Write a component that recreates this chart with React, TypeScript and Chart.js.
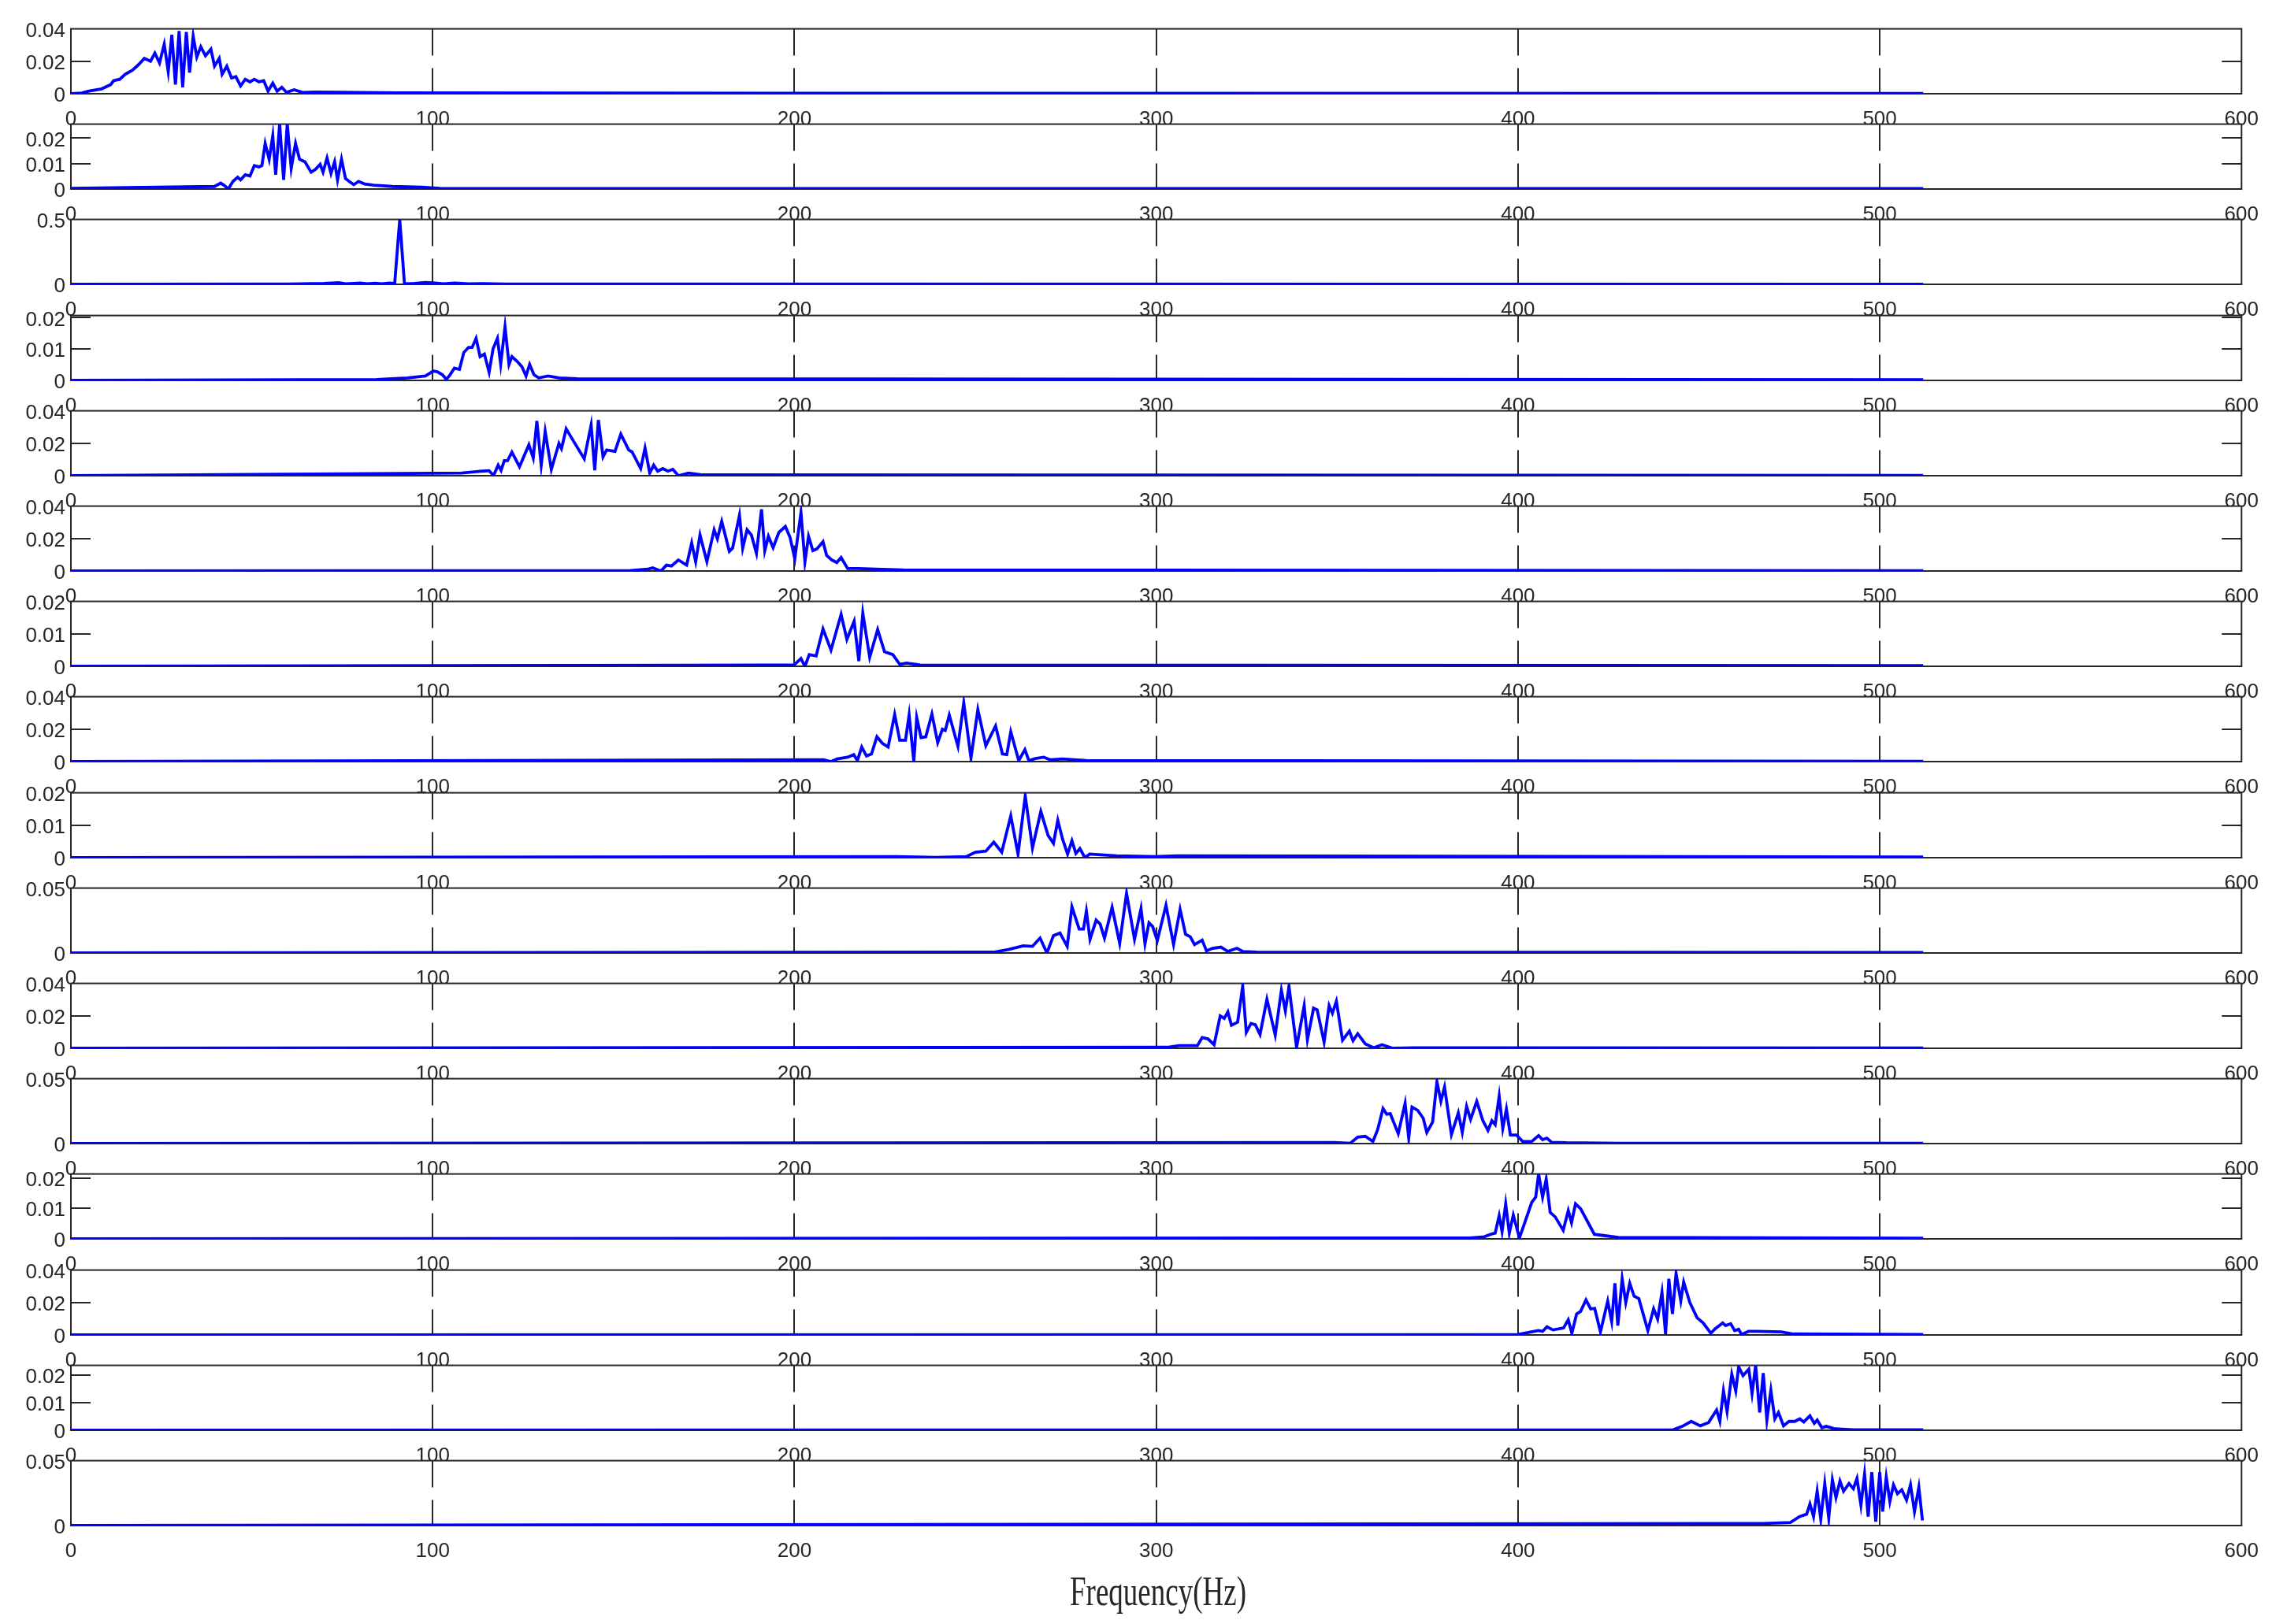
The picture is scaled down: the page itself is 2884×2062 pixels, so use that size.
import { useEffect, useRef } from "react";
import { Chart, registerables } from "chart.js";

Chart.register(...registerables);

// ---------- data ----------
const X_TICKS = [0, 100, 200, 300, 400, 500, 600];
const GRID_X = [100, 200, 300, 400, 500];
const X_LABEL = "Frequency(Hz)";

const panel1: [number, number][] = [
  [0, 0], [3, 0.0004], [5, 0.0016], [8.5, 0.003], [11, 0.0056], [11.8, 0.008], [13.5, 0.0089], [15, 0.012],
  [17, 0.0145], [18.6, 0.0177], [20.3, 0.0218], [22, 0.02], [23.2, 0.025], [24.5, 0.019], [25.8, 0.0306],
  [26.9, 0.0137], [27.9, 0.0363], [28.9, 0.0056], [29.9, 0.0387], [30.9, 0.004], [31.9, 0.038], [32.8, 0.013],
  [33.8, 0.0355], [34.8, 0.0226], [35.9, 0.029], [37.2, 0.0234], [38.7, 0.0274], [39.7, 0.017], [41, 0.0218],
  [41.8, 0.012], [43.1, 0.017], [44.4, 0.0097], [45.6, 0.0105], [46.9, 0.0048], [48.2, 0.0089], [49.5, 0.0073],
  [50.7, 0.0089], [52, 0.0073], [53.3, 0.008], [54.5, 0.0016], [55.8, 0.0065], [57, 0.0016], [58.3, 0.004],
  [59.6, 0.0008], [61.7, 0.0024], [64, 0.0008], [67.6, 0.001], [74, 0.0009], [90, 0.0005], [200, 0.0003], [512, 0.0002],
];
const panel2: [number, number][] = [
  [0, 0.0003], [39.7, 0.001], [41.4, 0.0023], [42.3, 0.0015], [43.5, 0], [44.8, 0.003], [46.1, 0.0046],
  [46.9, 0.0036], [48.2, 0.0056], [49.5, 0.0051], [50.7, 0.0092], [52, 0.0087], [52.8, 0.0092], [53.7, 0.0179],
  [54.8, 0.0117], [55.8, 0.0209], [56.6, 0.0056], [57.7, 0.0255], [58.8, 0.0036], [59.8, 0.0255], [60.9, 0.0082],
  [62.1, 0.0179], [63.2, 0.0117], [64.7, 0.0107], [66.4, 0.0066], [67.6, 0.0077], [68.9, 0.0097], [69.7, 0.0066],
  [70.8, 0.0122], [71.9, 0.0061], [72.9, 0.0107], [73.7, 0.0036], [74.8, 0.0117], [75.9, 0.0041], [76.9, 0.003],
  [78.2, 0.0017], [79.5, 0.003], [81.2, 0.002], [83.7, 0.0015], [88.8, 0.001], [97, 0.0007], [102, 0.0003], [512, 0.0002],
];
const panel3: [number, number][] = [
  [0, 0], [60, 0.002], [70, 0.006], [74, 0.012], [76, 0.004], [80, 0.01], [82, 0.003], [84, 0.008], [86, 0.004],
  [88, 0.01], [89.5, 0.006], [90.9, 0.5], [92.2, 0.004], [95, 0.006], [98, 0.014], [100, 0.012], [103, 0.004],
  [106, 0.01], [110, 0.003], [114, 0.005], [120, 0.002], [512, 0.001],
];
const panel4: [number, number][] = [
  [0, 0], [84.5, 0.0003], [93, 0.0008], [98, 0.0014], [100.2, 0.003], [101.4, 0.0027], [102.7, 0.0018],
  [103.8, 0.0003], [104.8, 0.0018], [106, 0.0039], [107.4, 0.0035], [108.6, 0.0089], [109.9, 0.0105],
  [110.9, 0.0105], [112, 0.0134], [113.1, 0.0076], [114.3, 0.0084], [115.6, 0.0026], [116.7, 0.0101],
  [117.9, 0.0134], [118.8, 0.0051], [120, 0.0171], [121.1, 0.0051], [121.9, 0.0076], [123.4, 0.006],
  [124.7, 0.0043], [125.8, 0.0014], [126.8, 0.0051], [128, 0.0018], [129.3, 0.0008], [131.9, 0.0014],
  [135, 0.0008], [140, 0.0005], [512, 0.0002],
];
const panel5: [number, number][] = [
  [0, 0], [108, 0.0016], [113.7, 0.0028], [115.6, 0.0031], [116.8, 0], [118.1, 0.0065], [118.9, 0.0033],
  [119.8, 0.0093], [120.7, 0.0093], [121.9, 0.0145], [124, 0.0056], [126.6, 0.0191], [127.8, 0.0109],
  [128.8, 0.0338], [130, 0.0065], [131.1, 0.0273], [132.8, 0.0039], [134.9, 0.0199], [135.6, 0.0167],
  [136.9, 0.0289], [139.1, 0.0207], [141.9, 0.0104], [143.8, 0.0313], [144.8, 0.0033], [145.8, 0.0343],
  [147.1, 0.0116], [148.1, 0.0158], [150.4, 0.015], [152, 0.0256], [154.2, 0.0158], [155.1, 0.0147],
  [157.5, 0.0044], [158.7, 0.017], [160, 0.0016], [161.1, 0.0065], [162.2, 0.0028], [163.6, 0.0044],
  [165, 0.0028], [166.4, 0.0039], [167.9, 0], [170.7, 0.0016], [174, 0.0007], [180, 0.0005], [512, 0.0002],
];
const panel6: [number, number][] = [
  [0, 0], [154.7, 0.0003], [159.4, 0.0011], [160.8, 0.0019], [163.1, 0], [164.6, 0.0036], [166, 0.0031],
  [167.9, 0.0068], [170.2, 0.0036], [171.6, 0.0173], [172.7, 0.0057], [173.9, 0.0222], [175.8, 0.0057],
  [177.8, 0.0254], [178.7, 0.0198], [179.9, 0.0306], [182, 0.0121], [182.9, 0.0141], [184.8, 0.0343],
  [185.7, 0.0141], [186.9, 0.0254], [188.1, 0.0222], [189.5, 0.0109], [190.9, 0.038], [191.8, 0.0125],
  [192.8, 0.0214], [194.1, 0.0144], [195.7, 0.0238], [197.5, 0.0274], [198.8, 0.0206], [200.1, 0.0076],
  [201.8, 0.036], [202.9, 0.0057], [203.9, 0.0214], [205.1, 0.0125], [206.2, 0.0136], [207.9, 0.0181],
  [208.9, 0.0096], [210.3, 0.0068], [211.7, 0.0052], [212.9, 0.0084], [214.7, 0.0015], [217.8, 0.0015],
  [222.5, 0.0011], [230, 0.0006], [512, 0.0002],
];
const panel7: [number, number][] = [
  [0, 0], [170, 0.0003], [190, 0.0004], [199.9, 0.0004], [201.8, 0.0024], [202.9, 0], [204.1, 0.0036],
  [206, 0.0032], [207.9, 0.0115], [210.1, 0.005], [212.9, 0.016], [214.5, 0.0083], [216.5, 0.0139],
  [217.8, 0.0016], [218.9, 0.0164], [220.8, 0.0028], [223, 0.0113], [224.9, 0.0045], [227.2, 0.0036],
  [229.1, 0.0006], [231, 0.001], [234.8, 0.0004], [512, 0.0002],
];
const panel8: [number, number][] = [
  [0, 0], [208.1, 0.0011], [210.1, 0], [211.8, 0.0016], [214.7, 0.0027], [216.4, 0.0043], [217.4, 0.0006],
  [218.6, 0.009], [219.9, 0.0035], [221.3, 0.0047], [222.8, 0.0153], [224.3, 0.0113], [225.9, 0.009],
  [227.7, 0.029], [229.1, 0.0132], [230.7, 0.0132], [231.7, 0.0287], [233, 0], [233.8, 0.0271], [235, 0.0148],
  [236.3, 0.0153], [238, 0.0294], [239.6, 0.0117], [240.9, 0.02], [241.7, 0.0192], [242.8, 0.0287],
  [245.2, 0.0094], [246.8, 0.0362], [248.8, 0.0022], [250.7, 0.0321], [252.9, 0.0098], [255.6, 0.022],
  [257.5, 0.0047], [258.7, 0.0043], [259.8, 0.0184], [262, 0.0006], [263.7, 0.0074], [264.8, 0.0006],
  [266.6, 0.0019], [268.9, 0.0027], [270.8, 0.0011], [274.1, 0.0016], [280.7, 0.0006], [512, 0.0002],
];
const panel9: [number, number][] = [
  [0, 0], [228.4, 0.0003], [239.2, 0.0001], [247.5, 0.0003], [250, 0.0017], [252.9, 0.002], [255.1, 0.0048],
  [257.3, 0.0017], [259.8, 0.0129], [261.8, 0.0011], [263.8, 0.019], [265.8, 0.003], [268.1, 0.0143],
  [270.1, 0.0069], [271.6, 0.0044], [272.8, 0.0115], [274.1, 0.0058], [275.5, 0.0011], [276.7, 0.0052],
  [277.8, 0.0013], [278.9, 0.0028], [280.3, 0], [281.6, 0.0011], [289, 0.0006], [299.8, 0.0003],
  [305.6, 0.0006], [512, 0.0002],
];
const panel10: [number, number][] = [
  [0, 0], [255, 0.0006], [259.1, 0.0026], [263.3, 0.0055], [265.8, 0.0051], [267.9, 0.0115], [269.8, 0],
  [271.6, 0.0134], [273.4, 0.0154], [275.4, 0.0051], [276.7, 0.0356], [278.7, 0.0184], [279.9, 0.0184],
  [280.7, 0.0322], [281.7, 0.0105], [283.4, 0.0253], [284.5, 0.0223], [285.7, 0.0115], [287.8, 0.0352],
  [289.9, 0.0075], [291.8, 0.046], [294, 0.0105], [295.8, 0.0342], [296.9, 0.0071], [298, 0.0233],
  [299, 0.0204], [300.3, 0.0095], [302.7, 0.0368], [304.8, 0.0065], [306.6, 0.0336], [308.1, 0.0144],
  [309.4, 0.0125], [310.6, 0.0065], [312.7, 0.0099], [313.9, 0.0016], [315.6, 0.0036], [317.9, 0.0045],
  [319.8, 0.0012], [322.3, 0.0036], [323.9, 0.0012], [327.9, 0.0006], [512, 0.0003],
];
const panel11: [number, number][] = [
  [0, 0], [303, 0.0006], [306.3, 0.0016], [311.4, 0.0016], [312.7, 0.0066], [314.3, 0.0058], [316, 0.0022],
  [317.7, 0.02], [318.8, 0.0184], [319.8, 0.0224], [320.8, 0.0142], [322.5, 0.0161], [323.9, 0.0381],
  [324.9, 0.0098], [326.2, 0.0153], [327.4, 0.0145], [328.7, 0.0085], [330.6, 0.0302], [332.9, 0.0082],
  [334.6, 0.0357], [335.7, 0.0231], [336.7, 0.0381], [338.8, 0.0006], [340.9, 0.0263], [341.8, 0.0054],
  [343.5, 0.0247], [344.5, 0.0236], [346.4, 0.0038], [347.8, 0.0263], [348.7, 0.0216], [349.8, 0.029],
  [351.5, 0.005], [353.4, 0.0106], [354.4, 0.0047], [355.7, 0.009], [357.8, 0.0027], [360.2, 0.0003],
  [362.4, 0.0022], [365.4, 0], [371.3, 0.0003], [388.2, 0.0003], [512, 0.0002],
];
const panel12: [number, number][] = [
  [0, 0], [349.4, 0.0008], [353.6, 0.0002], [355.7, 0.005], [357.8, 0.0056], [359.9, 0.0016], [361.2, 0.0106],
  [362.7, 0.027], [363.7, 0.0226], [364.7, 0.023], [366.9, 0.0076], [368.8, 0.031], [369.8, 0.0042],
  [370.7, 0.0282], [372.3, 0.0256], [373.8, 0.0196], [374.8, 0.0086], [376.4, 0.0166], [377.6, 0.0476],
  [378.7, 0.0326], [379.7, 0.0436], [381.6, 0.007], [383.5, 0.0236], [384.6, 0.0086], [385.8, 0.0286],
  [386.9, 0.0186], [388.6, 0.0326], [390.3, 0.0176], [391.7, 0.0102], [392.8, 0.0176], [393.7, 0.0146],
  [394.8, 0.0366], [395.8, 0.0116], [396.8, 0.0266], [397.9, 0.0066], [399.6, 0.0066], [401.3, 0.0016],
  [403.8, 0.0016], [405.7, 0.0062], [406.8, 0.003], [408, 0.0042], [409.3, 0.001], [413.5, 0.0006],
  [427.7, 0.0002], [512, 0.0002],
];
const panel13: [number, number][] = [
  [0, 0], [346, 0.0003], [386.5, 0.0003], [390.7, 0.0007], [392.4, 0.0015], [393.7, 0.0019], [394.8, 0.0076],
  [395.6, 0.0024], [396.6, 0.0115], [397.6, 0.0019], [398.7, 0.0078], [400.4, 0.0003], [402.1, 0.0061],
  [403.8, 0.012], [404.9, 0.0137], [405.7, 0.0213], [406.8, 0.0137], [407.8, 0.0196], [408.9, 0.0087],
  [410.3, 0.0072], [412.5, 0.0028], [413.9, 0.0093], [414.8, 0.0053], [415.9, 0.0115], [417.3, 0.0099],
  [419.4, 0.0053], [421.1, 0.0015], [423.6, 0.0011], [427.7, 0.0005], [512, 0.0002],
];
const panel14: [number, number][] = [
  [0, 0], [395, 0.0002], [400, 0.0003], [405.6, 0.0027], [406.8, 0.0022], [408, 0.005], [409.7, 0.0031],
  [412.6, 0.0043], [413.9, 0.0094], [414.9, 0.0011], [416.2, 0.0129], [417.3, 0.0145], [418.8, 0.0216],
  [420.1, 0.0161], [421.2, 0.0164], [422.8, 0.0019], [424.8, 0.0208], [425.9, 0.0082], [426.8, 0.0318],
  [427.6, 0.0058], [428.8, 0.0346], [429.8, 0.02], [430.9, 0.0318], [432.1, 0.0239], [433.4, 0.0224],
  [435.9, 0.0027], [437.5, 0.0161], [438.6, 0.0098], [439.8, 0.0263], [440.8, 0.0006], [441.7, 0.0346],
  [442.7, 0.0129], [443.7, 0.0378], [445, 0.0211], [445.8, 0.0326], [447.5, 0.02], [449.5, 0.0106],
  [451.2, 0.0074], [453.3, 0.0011], [454.5, 0.0038], [456.6, 0.0074], [457.4, 0.0058], [458.8, 0.0069],
  [459.9, 0.0027], [461, 0.0035], [461.8, 0.0003], [463.7, 0.0022], [466.1, 0.0022], [472.8, 0.0019],
  [476.1, 0.0006], [512, 0.0003],
];
const panel15: [number, number][] = [
  [0, 0], [442.9, 0.0002], [445.4, 0.0014], [447.9, 0.0032], [450.4, 0.0016], [452.7, 0.0028], [454.9, 0.0073],
  [455.8, 0.0032], [456.8, 0.0142], [457.8, 0.0067], [459.1, 0.0202], [460.2, 0.0142], [461, 0.0229],
  [462.2, 0.0197], [463.8, 0.022], [464.7, 0.0133], [465.7, 0.0234], [466.8, 0.0064], [467.8, 0.0206],
  [468.8, 0.0037], [469.9, 0.0144], [471, 0.0041], [472, 0.0064], [473.4, 0.0016], [474.9, 0.0032],
  [476.5, 0.0032], [477.9, 0.0041], [479, 0.003], [480.7, 0.0052], [481.9, 0.0025], [482.7, 0.0037],
  [484, 0.0009], [485.2, 0.0014], [487.7, 0.0005], [492.7, 0.0002], [512, 0.0002],
];
const panel16: [number, number][] = [
  [0, 0], [459.5, 0.0016], [467.8, 0.0016], [475.3, 0.0024], [477.8, 0.0069], [479.8, 0.0088], [480.7, 0.0167],
  [481.7, 0.0069], [482.7, 0.0265], [483.7, 0.0049], [484.8, 0.0324], [485.9, 0.0059], [486.9, 0.0353],
  [487.9, 0.0216], [489, 0.0343], [490, 0.0265], [491.5, 0.0324], [492.7, 0.0284], [493.7, 0.0363],
  [494.8, 0.0157], [495.8, 0.0396], [496.8, 0.0069], [497.8, 0.0412], [498.9, 0.0029], [500, 0.0412],
  [500.8, 0.0108], [501.8, 0.0373], [502.8, 0.0186], [503.8, 0.0314], [504.9, 0.0245], [506.1, 0.0275],
  [507.4, 0.0196], [508.5, 0.0314], [509.6, 0.0108], [510.8, 0.0294], [511.8, 0.0039],
];

const PANELS = [
  panel1, panel2, panel3, panel4, panel5, panel6, panel7, panel8,
  panel9, panel10, panel11, panel12, panel13, panel14, panel15, panel16,
];
const Y_MAX = [0.04, 0.0255, 0.5, 0.0207, 0.04, 0.04, 0.02, 0.04, 0.02, 0.05, 0.04, 0.05, 0.0213, 0.04, 0.0234, 0.05];
const Y_TICKS: number[][] = [
  [0, 0.02, 0.04], [0, 0.01, 0.02], [0, 0.5], [0, 0.01, 0.02],
  [0, 0.02, 0.04], [0, 0.02, 0.04], [0, 0.01, 0.02], [0, 0.02, 0.04],
  [0, 0.01, 0.02], [0, 0.05], [0, 0.02, 0.04], [0, 0.05],
  [0, 0.01, 0.02], [0, 0.02, 0.04], [0, 0.01, 0.02], [0, 0.05],
];

// ---------- layout / style ----------
const W = 2884;
const PLOT_LEFT = 90;
const RIGHT_PAD = 32;
const FIRST_TOP = 34;
const STEP = 121.2;
const PLOT_H = 85;
const PAD_TOP = 20;
const X_AXIS_H = 45;
const TITLE_SPACE = 80;
const AXIS_COLOR = "#262626";
const LINE_COLOR = "#0000ff";
const TICK_FONT = { family: "'Liberation Sans', Arial, Helvetica, sans-serif", size: 26 };

const framePlugin = {
  id: "matlabFrame",
  beforeDraw(chart: any) {
    const { ctx, chartArea: a } = chart;
    ctx.save();
    ctx.fillStyle = "#ffffff";
    ctx.fillRect(a.left, a.top, a.right - a.left, a.bottom - a.top);
    ctx.restore();
  },
  beforeDatasetsDraw(chart: any) {
    const { ctx, chartArea: a, scales } = chart;
    const xs = scales.x;
    const ys = scales.y;
    ctx.save();
    ctx.strokeStyle = AXIS_COLOR;
    ctx.lineWidth = 2;
    ctx.setLineDash([34, 16]);
    for (const v of GRID_X) {
      const x = Math.round(xs.getPixelForValue(v));
      ctx.beginPath();
      ctx.moveTo(x, a.top);
      ctx.lineTo(x, a.bottom);
      ctx.stroke();
    }
    ctx.setLineDash([]);
    for (const t of ys.ticks) {
      if (t.value <= 0 || t.value >= ys.max) continue;
      const y = Math.round(ys.getPixelForValue(t.value));
      ctx.beginPath();
      ctx.moveTo(a.left, y);
      ctx.lineTo(a.left + 25, y);
      ctx.moveTo(a.right - 25, y);
      ctx.lineTo(a.right, y);
      ctx.stroke();
    }
    ctx.strokeRect(a.left, a.top, a.right - a.left, a.bottom - a.top);
    ctx.restore();
  },
};

const titlePlugin = {
  id: "freqTitle",
  afterDraw(chart: any) {
    const { ctx, chartArea: a } = chart;
    ctx.save();
    ctx.fillStyle = AXIS_COLOR;
    ctx.font = "37px 'Liberation Serif', 'Times New Roman', serif";
    ctx.textAlign = "center";
    ctx.textBaseline = "middle";
    ctx.translate(1470, a.bottom + 87);
    ctx.scale(1, 1.4);
    ctx.fillText(X_LABEL, 0, 0);
    ctx.restore();
  },
};

function Panel({ index }: { index: number }) {
  const ref = useRef<HTMLCanvasElement>(null);
  const isLast = index === PANELS.length - 1;
  const plotTop = Math.round(FIRST_TOP + index * STEP);
  const canvasTop = plotTop - PAD_TOP;
  const h = PAD_TOP + PLOT_H + X_AXIS_H + (isLast ? TITLE_SPACE : 0);

  useEffect(() => {
    const canvas = ref.current;
    if (!canvas) return;
    const pts = PANELS[index];
    const yTicks = Y_TICKS[index];
    const chart = new Chart(canvas, {
      type: "line",
      data: {
        datasets: [
          {
            data: pts.map(([x, y]) => ({ x, y })),
            borderColor: LINE_COLOR,
            borderWidth: 3.8,
            pointRadius: 0,
            tension: 0,
            fill: false,
          },
        ],
      },
      options: {
        animation: false,
        responsive: false,
        events: [],
        layout: { padding: { top: PAD_TOP, right: RIGHT_PAD, left: 0, bottom: isLast ? TITLE_SPACE : 0 } },
        plugins: { legend: { display: false }, tooltip: { enabled: false }, title: { display: false } },
        scales: {
          x: {
            type: "linear",
            min: 0,
            max: 600,
            afterBuildTicks: (s: any) => {
              s.ticks = X_TICKS.map((v) => ({ value: v }));
            },
            afterFit: (s: any) => {
              s.height = X_AXIS_H;
            },
            grid: { display: false, drawTicks: false },
            border: { display: false },
            ticks: {
              font: TICK_FONT,
              color: AXIS_COLOR,
              padding: 17,
              maxRotation: 0,
              autoSkip: false,
              callback: (v: any) => String(v),
            },
          },
          y: {
            type: "linear",
            min: 0,
            max: Y_MAX[index],
            afterBuildTicks: (s: any) => {
              s.ticks = yTicks.map((v) => ({ value: v }));
            },
            afterFit: (s: any) => {
              s.width = PLOT_LEFT;
            },
            grid: { display: false, drawTicks: false },
            border: { display: false },
            ticks: {
              font: TICK_FONT,
              color: AXIS_COLOR,
              padding: 7,
              labelOffset: 3,
              autoSkip: false,
              callback: (v: any) => String(v),
            },
          },
        },
      } as any,
      plugins: isLast ? [framePlugin, titlePlugin] : [framePlugin],
    });
    return () => chart.destroy();
  }, [index]);

  return (
    <canvas
      ref={ref}
      width={W}
      height={h}
      style={{ position: "absolute", left: 0, top: canvasTop, width: W, height: h, display: "block" }}
    />
  );
}

export default function App() {
  return (
    <div style={{ position: "absolute", left: 0, top: 0, width: W, height: 2062, background: "#ffffff", overflow: "hidden" }}>
      {PANELS.map((_, i) => (
        <Panel key={i} index={i} />
      ))}
    </div>
  );
}
